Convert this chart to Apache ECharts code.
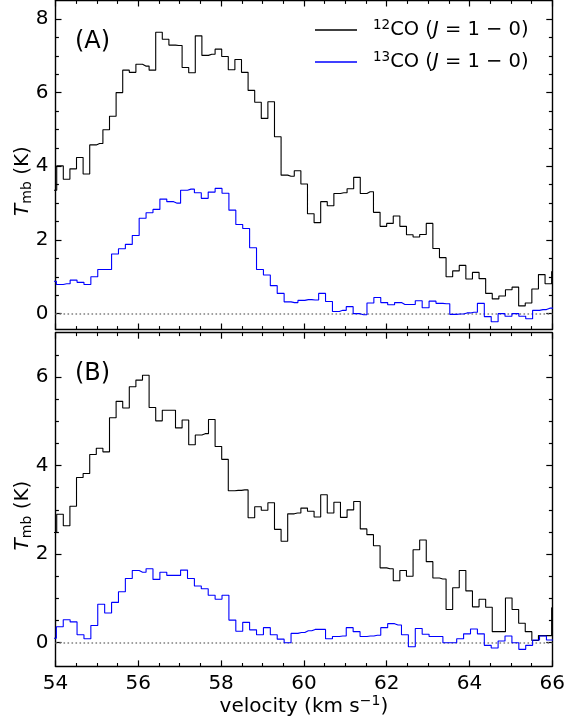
<!DOCTYPE html>
<html><head><meta charset="utf-8">
<script src="https://cdn.jsdelivr.net/npm/echarts@6/dist/echarts.min.js"></script>
<style>html,body{margin:0;padding:0;background:#fff}#c{width:566px;height:719px}</style>
</head><body><div id="c"></div>
<script>
// 12CO channel velocities (km/s)
const vel12 = [53.950,54.109,54.268,54.428,54.587,54.747,54.906,55.065,55.225,55.384,55.544,55.703,55.862,56.022,56.181,56.341,56.500,56.659,56.819,56.978,57.138,57.297,57.456,57.616,57.775,57.935,58.094,58.253,58.413,58.572,58.732,58.891,59.050,59.210,59.369,59.529,59.688,59.847,60.007,60.166,60.326,60.485,60.644,60.804,60.963,61.123,61.282,61.441,61.601,61.760,61.920,62.079,62.238,62.398,62.557,62.717,62.876,63.035,63.195,63.354,63.514,63.673,63.832,63.992,64.151,64.311,64.470,64.629,64.789,64.948,65.108,65.267,65.426,65.586,65.745,65.905,66.064];
// 13CO channel velocities (km/s)
const vel13 = [53.937,54.104,54.270,54.437,54.604,54.771,54.937,55.104,55.271,55.438,55.604,55.771,55.938,56.104,56.271,56.438,56.605,56.771,56.938,57.105,57.272,57.438,57.605,57.772,57.939,58.105,58.272,58.439,58.605,58.772,58.939,59.106,59.272,59.439,59.606,59.773,59.939,60.106,60.273,60.439,60.606,60.773,60.940,61.106,61.273,61.440,61.607,61.773,61.940,62.107,62.274,62.440,62.607,62.774,62.940,63.107,63.274,63.441,63.607,63.774,63.941,64.108,64.274,64.441,64.608,64.774,64.941,65.108,65.275,65.441,65.608,65.775,65.942,66.108];
// Panel A
const co12A = [3.35,4.01,3.65,3.93,4.24,3.79,4.58,4.62,4.99,5.36,6.00,6.61,6.55,6.77,6.72,6.61,7.64,7.45,7.29,7.28,6.68,6.54,7.54,7.01,7.04,7.18,6.98,6.62,6.90,6.55,6.06,5.74,5.30,5.75,4.80,3.76,3.73,3.88,3.52,2.71,2.47,3.04,2.93,3.26,3.28,3.39,3.70,3.26,3.31,2.75,2.37,2.45,2.65,2.37,2.14,2.08,2.15,2.45,1.77,1.52,1.00,1.16,1.31,0.94,1.12,0.95,0.55,0.40,0.48,0.65,0.72,0.21,0.29,0.67,1.06,0.81,1.14];
const co13A = [0.88,0.79,0.81,0.91,0.85,0.79,1.00,1.20,1.20,1.62,1.76,1.88,2.12,2.59,2.74,2.83,3.11,3.04,3.00,3.35,3.38,3.28,3.13,3.30,3.40,3.27,2.81,2.42,2.31,1.79,1.20,1.05,0.76,0.55,0.32,0.30,0.36,0.38,0.37,0.55,0.33,0.06,0.09,0.19,0.00,-0.03,0.29,0.44,0.30,0.24,0.30,0.25,0.25,0.35,0.16,0.34,0.28,0.27,-0.02,-0.01,0.02,0.04,0.28,-0.08,-0.22,0.00,-0.07,0.00,-0.07,-0.14,0.09,0.11,0.15,0.16];
// Panel B
const co12B = [2.49,2.90,2.64,3.08,3.73,3.82,4.25,4.39,4.31,5.08,5.45,5.30,5.78,5.93,6.04,5.31,5.01,5.25,5.25,4.85,5.03,4.47,4.69,4.72,5.04,4.43,4.14,3.43,3.44,3.45,2.82,3.07,2.99,3.16,2.56,2.29,2.91,2.93,3.04,2.97,2.84,3.34,2.93,3.17,2.83,3.00,3.19,2.57,2.44,2.19,1.69,1.67,1.40,1.63,1.50,2.10,2.32,1.83,1.46,1.44,0.75,1.24,1.63,1.17,0.81,0.98,0.80,0.25,0.25,1.01,0.75,0.44,0.25,0.05,0.16,0.16,0.79];
const co13B = [0.10,0.36,0.52,0.47,0.18,0.09,0.39,0.87,0.67,0.91,1.15,1.45,1.63,1.59,1.67,1.43,1.59,1.52,1.52,1.64,1.45,1.28,1.22,1.07,0.98,1.07,0.51,0.26,0.46,0.29,0.18,0.34,0.18,0.08,0.00,0.21,0.23,0.27,0.30,0.30,0.09,0.14,0.15,0.34,0.25,0.14,0.15,0.17,0.34,0.43,0.40,0.18,-0.09,0.32,0.19,0.14,0.14,0.00,0.00,0.09,0.20,0.31,0.20,-0.06,-0.12,0.04,0.15,0.00,-0.15,-0.06,0.06,0.15,0.06,0.06];
// ticks
const xTicks = [54,56,58,60,62,64,66];
const yTicksA = [0,2,4,6,8];
const yMinorA = [0.5,1,1.5,2.5,3,3.5,4.5,5,5.5,6.5,7,7.5];
const yTicksB = [0,2,4,6];
const yMinorB = [0.5,1,1.5,2.5,3,3.5,4.5,5,5.5,6.5];
const yRangeA = [-0.43, 8.5];
const yRangeB = [-0.535, 7.0];

const FONT = 'DejaVu Sans';
const chart = echarts.init(document.getElementById('c'), null, {renderer: 'canvas'});

function xAx(gi, pos, labels, name) {
  const a = {
    type: 'value', gridIndex: gi, position: pos, min: 54, max: 66, interval: 2,
    axisLine: {show: true, onZero: false, lineStyle: {color: '#000', width: 1.4}},
    axisTick: {show: true, inside: true, length: 6, lineStyle: {color: '#000', width: 1.2}},
    minorTick: {show: true, splitNumber: 4, length: 3.4, lineStyle: {color: '#000', width: 1.1}},
    axisLabel: {show: labels, customValues: xTicks, margin: 7, color: '#000', fontFamily: FONT, fontSize: 20},
    splitLine: {show: false}, minorSplitLine: {show: false}
  };
  if (name) {
    a.name = '{t|velocity (km s}{sup|\u22121}{t|)}';
    a.nameLocation = 'middle';
    a.nameGap = 22;
    a.nameTextStyle = {color: '#000', fontFamily: FONT, fontSize: 20,
      rich: {t: {fontFamily: FONT, fontSize: 20, lineHeight: 24, color: '#000'},
             sup: {fontFamily: FONT, fontSize: 14, lineHeight: 16, verticalAlign: 'top', color: '#000'}}};
  }
  return a;
}
function yAx(gi, pos, range, vals, len, line, labels, name) {
  const a = {
    type: 'value', gridIndex: gi, position: pos, min: range[0], max: range[1], offset: 0,
    axisLine: {show: line, onZero: false, lineStyle: {color: '#000', width: 1.4}},
    axisTick: {show: true, inside: true, length: len, customValues: vals, lineStyle: {color: '#000', width: 1.2}},
    axisLabel: {show: labels, customValues: vals, margin: 7, color: '#000', fontFamily: FONT, fontSize: 20},
    splitLine: {show: false}
  };
  if (name) {
    a.name = '{it|T}{sub|mb}{t| (K)}';
    a.nameLocation = 'middle';
    a.nameGap = 21;
    a.nameMoveOverlap = false;
    a.nameRotate = 90;
    a.nameTextStyle = {color: '#000', fontFamily: FONT, fontSize: 20, padding: [0, 32, 0, 0],
      rich: {t: {fontFamily: FONT, fontSize: 20, lineHeight: 24, color: '#000'},
             it: {fontFamily: FONT, fontSize: 20, lineHeight: 24, fontStyle: 'italic', color: '#000'},
             sub: {fontFamily: FONT, fontSize: 14, lineHeight: 12, verticalAlign: 'bottom', color: '#000'}}};
  }
  return a;
}
function pairs(xs, ys) { return xs.map((x, i) => [x, ys[i]]); }
function spec(name, color, xi, yi, xs, ys, zero) {
  const s = {
    name: name, type: 'line', step: 'middle', xAxisIndex: xi, yAxisIndex: yi,
    data: pairs(xs, ys), showSymbol: false, symbol: 'none', clip: true, color: color,
    itemStyle: {color: color}, lineStyle: {color: color, width: 1.1}, silent: true, z: color === '#0000ff' ? 3 : 2
  };
  if (zero) {
    s.markLine = {silent: true, symbol: 'none', label: {show: false},
      lineStyle: {color: '#808080', type: [1.6, 2.4], width: 1.5}, data: [{yAxis: 0}], z: 1};
  }
  return s;
}
const option = {
  animation: false,
  backgroundColor: '#fff',
  grid: [
    {left: 55.5, top: 0.5, width: 496.8, height: 329, outerBoundsMode: 'none', containLabel: false},
    {left: 55.5, top: 332.7, width: 496.8, height: 333.7, outerBoundsMode: 'none', containLabel: false}
  ],
  title: [
    {text: '(A)', left: 75, top: 30, padding: 0, textStyle: {fontFamily: FONT, fontSize: 24, fontWeight: 'normal', color: '#000'}},
    {text: '(B)', left: 75, top: 362, padding: 0, textStyle: {fontFamily: FONT, fontSize: 24, fontWeight: 'normal', color: '#000'}}
  ],
  legend: {
    data: ['12CO', '13CO'], orient: 'vertical', left: 315, top: 18, padding: 0,
    itemWidth: 42, itemHeight: 1.3, itemGap: 10, icon: 'rect', selectedMode: false,
    formatter: n => '{pad|}{sup|' + n.slice(0, 2) + '}{t|CO (}{it|J}{t| = 1 \u2212 0)}',
    textStyle: {color: '#000', fontFamily: FONT, fontSize: 19.5,
      rich: {pad: {width: 11, lineHeight: 24},
             t: {fontFamily: FONT, fontSize: 19.5, lineHeight: 24, color: '#000'},
             it: {fontFamily: FONT, fontSize: 19.5, lineHeight: 24, fontStyle: 'italic', color: '#000'},
             sup: {fontFamily: FONT, fontSize: 13.5, lineHeight: 16, verticalAlign: 'top', color: '#000'}}}
  },
  xAxis: [xAx(0, 'bottom', false), xAx(0, 'top', false), xAx(1, 'bottom', true, true), xAx(1, 'top', false)],
  yAxis: [
    yAx(0, 'left', yRangeA, yTicksA, 6, true, true, true),
    yAx(0, 'left', yRangeA, yMinorA, 3.4, false, false),
    yAx(0, 'right', yRangeA, yTicksA, 6, true, false),
    yAx(0, 'right', yRangeA, yMinorA, 3.4, false, false),
    yAx(1, 'left', yRangeB, yTicksB, 6, true, true, true),
    yAx(1, 'left', yRangeB, yMinorB, 3.4, false, false),
    yAx(1, 'right', yRangeB, yTicksB, 6, true, false),
    yAx(1, 'right', yRangeB, yMinorB, 3.4, false, false)
  ],
  series: [
    spec('12CO', '#000000', 0, 0, vel12, co12A, true),
    spec('13CO', '#0000ff', 0, 0, vel13, co13A, false),
    spec('12CO', '#000000', 2, 4, vel12, co12B, true),
    spec('13CO', '#0000ff', 2, 4, vel13, co13B, false)
  ]
};
chart.setOption(option);
</script></body></html>
